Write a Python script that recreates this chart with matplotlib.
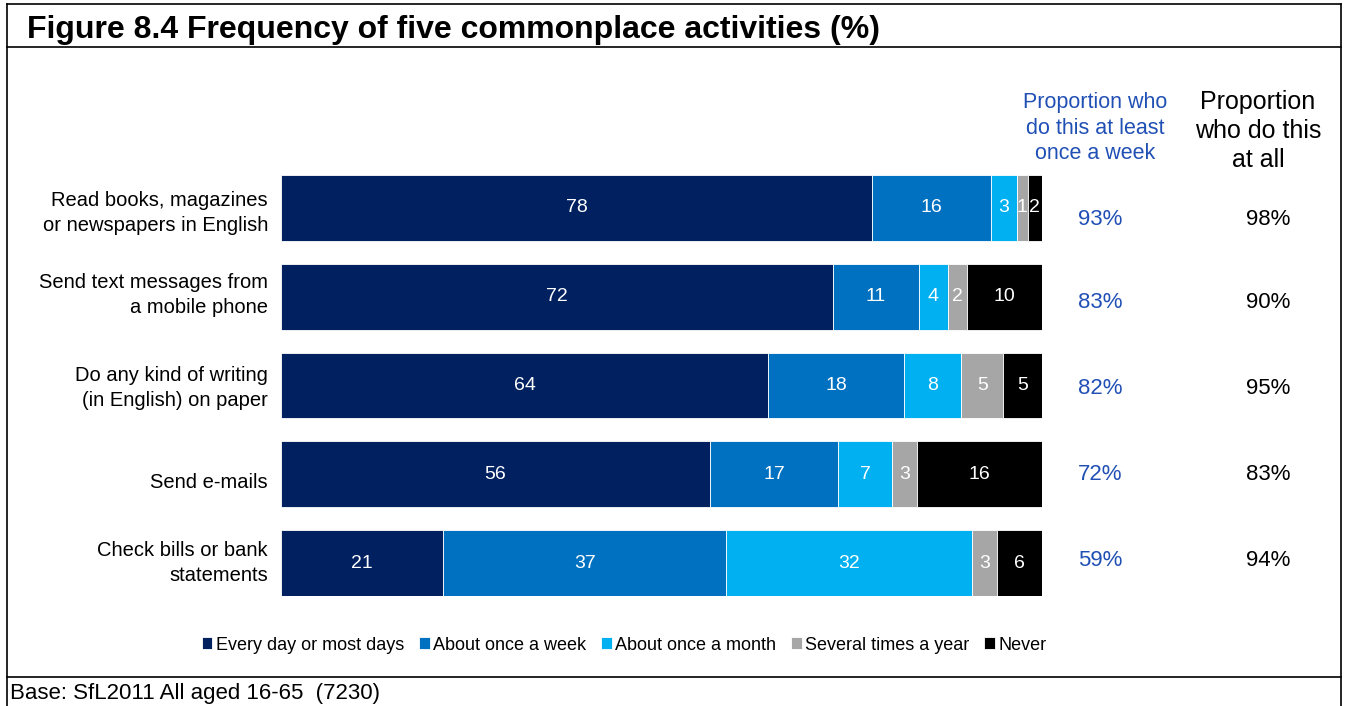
import matplotlib.pyplot as plt
from matplotlib.lines import Line2D

plt.rcParams['font.family'] = ['Liberation Sans', 'DejaVu Sans']

# categories (top to bottom)
activities = ['Read books, magazines\nor newspapers in English',
              'Send text messages from\na mobile phone',
              'Do any kind of writing\n(in English) on paper',
              'Send e-mails',
              'Check bills or bank\nstatements']
series_names = ['Every day or most days', 'About once a week', 'About once a month',
                'Several times a year', 'Never']

# segment widths as drawn (unrounded, %)
every_day = [77.7, 72.5, 64.0, 56.4, 21.3]
once_week = [15.6, 11.3, 17.9, 16.8, 37.2]
once_month = [3.4, 3.8, 7.5, 7.1, 32.3]
several_year = [1.4, 2.6, 5.5, 3.3, 3.3]
never = [1.9, 9.8, 5.1, 16.4, 5.9]

# printed labels
every_day_lbl = [78, 72, 64, 56, 21]
once_week_lbl = [16, 11, 18, 17, 37]
once_month_lbl = [3, 4, 8, 7, 32]
several_year_lbl = [1, 2, 5, 3, 3]
never_lbl = [2, 10, 5, 16, 6]

weekly_pct = ['93%', '83%', '82%', '72%', '59%']
at_all_pct = ['98%', '90%', '95%', '83%', '94%']

colors = ['#002060', '#0070C0', '#00B0F0', '#A6A6A6', '#000000']
blue_txt = '#2150B5'

W, H = 1349, 706
fig = plt.figure(figsize=(W / 100, H / 100), dpi=100)

# plot area: x 281..1042 px, y 175..596 px
ax = fig.add_axes([281 / W, 1 - 596 / H, (1042 - 281) / W, (596 - 175) / H])

series = [every_day, once_week, once_month, several_year, never]
labels = [every_day_lbl, once_week_lbl, once_month_lbl, several_year_lbl, never_lbl]
ypos = list(range(len(activities)))
left = [0.0] * len(activities)
for vals, lbls, col, name in zip(series, labels, colors, series_names):
    ax.barh(ypos, vals, left=left, height=0.74, color=col,
            edgecolor='white', linewidth=0.6, label=name)
    for i, (v, l) in enumerate(zip(vals, lbls)):
        ax.text(left[i] + v / 2, i, str(l), ha='center', va='center',
                color='white', fontsize=14)
    left = [a + b for a, b in zip(left, vals)]

ax.set_xlim(0, 100)
ax.set_ylim(4.37, -0.37)
ax.set_xticks([])
ax.set_yticks([])
for s in ax.spines.values():
    s.set_visible(False)

# category labels (placed as in the original, not exactly on bar centres)
label_rows_px = [213, 295, 388, 483, 563]
for name, ypx in zip(activities, label_rows_px):
    fig.text(268 / W, 1 - ypx / H, name, ha='right', va='center',
             fontsize=14.5, linespacing=1.45)

# right-hand columns (text rows sit on their own grid, slightly off the bars)
col_rows_px = [220, 303, 388, 474, 560]
for i, ypx in enumerate(col_rows_px):
    fig.text(1100 / W, 1 - ypx / H, weekly_pct[i], ha='center', va='center',
             fontsize=16, color=blue_txt)
    fig.text(1268 / W, 1 - ypx / H, at_all_pct[i], ha='center', va='center',
             fontsize=16, color='black')

fig.text(1095 / W, 1 - 128 / H, 'Proportion who\ndo this at least\nonce a week',
         ha='center', va='center', fontsize=15.5, color=blue_txt, linespacing=1.3)
fig.text(1258 / W, 1 - 131 / H, 'Proportion\nwho do this\nat all',
         ha='center', va='center', fontsize=18, color='black', linespacing=1.25)

# title and base
fig.text(27 / W, 1 - 30 / H, 'Figure 8.4 Frequency of five commonplace activities (%)',
         ha='left', va='center', fontsize=23, fontweight='bold')
fig.text(10 / W, 1 - 694 / H, 'Base: SfL2011 All aged 16-65  (7230)',
         ha='left', va='center', fontsize=16)

# legend
fig.legend(loc='center', bbox_to_anchor=(624 / W, 1 - 645 / H), ncol=5,
           frameon=False, fontsize=13, handlelength=0.6, handleheight=0.6,
           handletextpad=0.2, columnspacing=0.8, borderaxespad=0)

# frame lines
def hline(y, x0=7, x1=1341):
    fig.add_artist(Line2D([x0 / W, x1 / W], [1 - y / H, 1 - y / H],
                          color='black', linewidth=1.2, transform=fig.transFigure))

def vline(x, y0=4, y1=706):
    fig.add_artist(Line2D([x / W, x / W], [1 - y0 / H, 1 - y1 / H],
                          color='black', linewidth=1.2, transform=fig.transFigure))

hline(4)
hline(47)
hline(677)
vline(7)
vline(1341)

fig.savefig('out.png', dpi=100)
